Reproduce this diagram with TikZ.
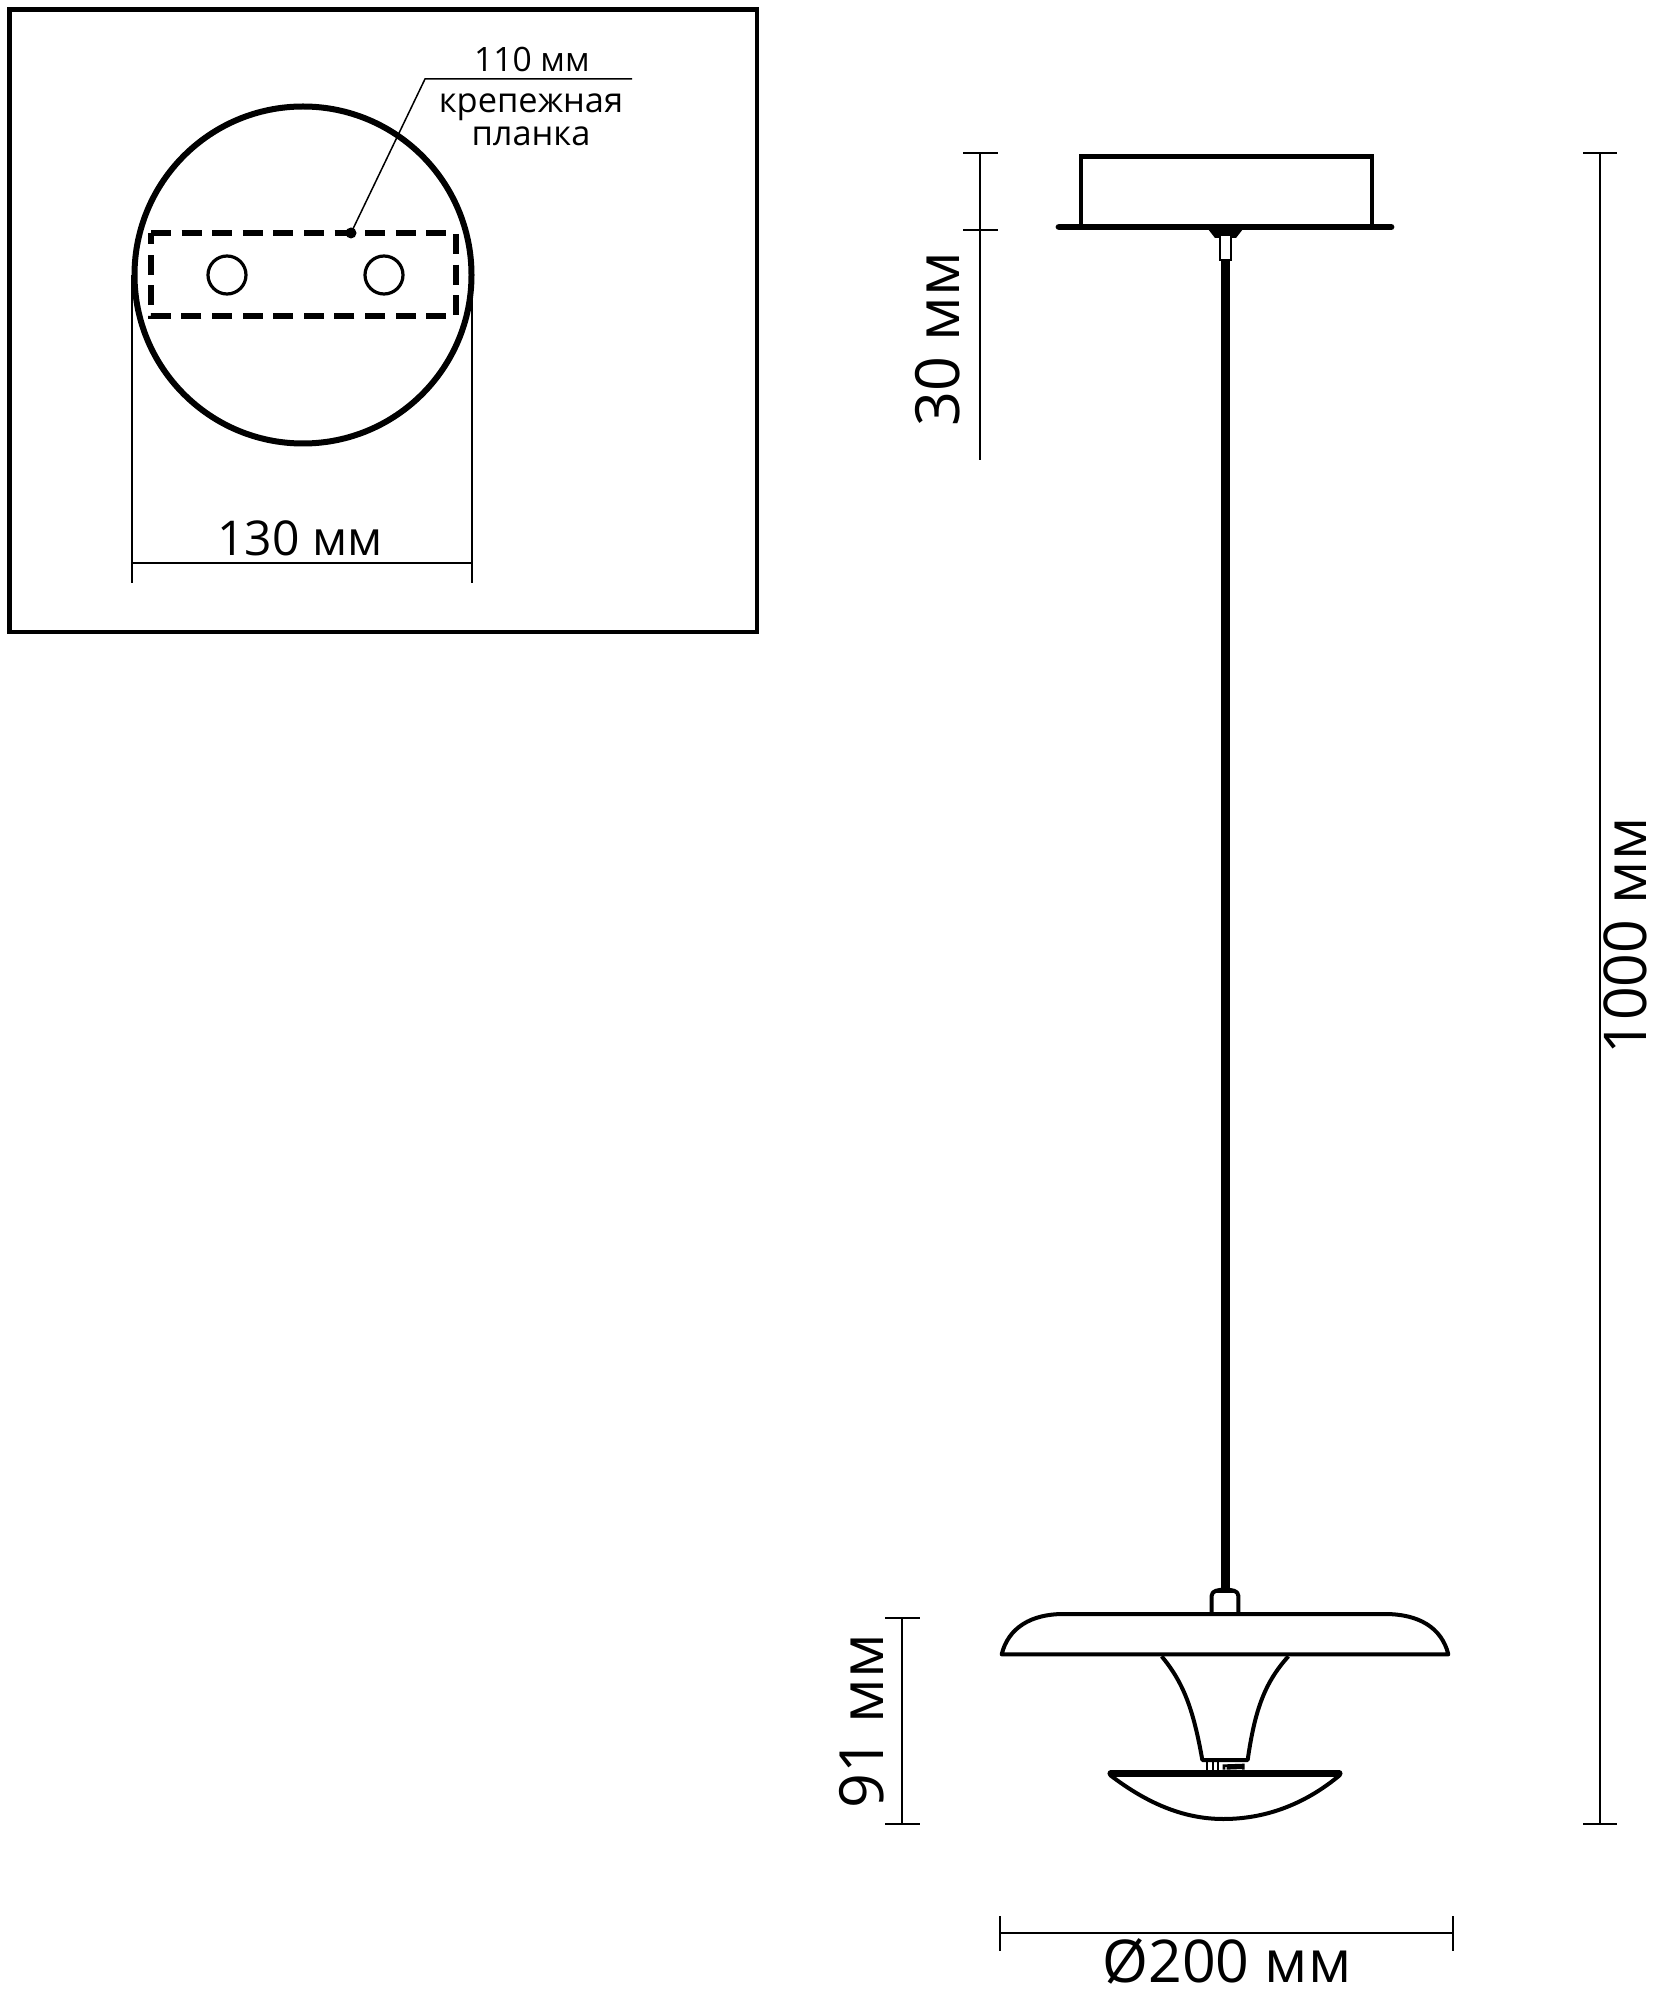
\documentclass[tikz,border=0pt]{standalone}
\usepackage{fontspec}
\setmainfont{Open Sans}
\begin{document}
\begin{tikzpicture}[x=0.5pt,y=-0.5pt,
  thin line/.style={line width=0.75pt,black},
  heavy/.style={line width=3pt,black},
  lampline/.style={line width=2pt,black,line join=round},
  dim/.style={inner sep=0pt,font=\fontsize{30.5}{30.5}\selectfont},
  dimtall/.style={inner sep=0pt,font=\fontsize{29.5}{29.5}\selectfont},
  dimmid/.style={inner sep=0pt,font=\fontsize{24}{24}\selectfont},
  dimsmall/.style={inner sep=0pt,font=\fontsize{16.8}{16.8}\selectfont},
  lab/.style={inner sep=0pt,font=\fontsize{17.2}{17.2}\selectfont}]
\useasboundingbox (0,0) rectangle (1666,2000);
% inset
\draw[line width=2.2pt] (9.5,9.5) rectangle (757,632);
\draw[heavy] (303,275) circle[radius=168.5];
\draw[line width=3pt,dash pattern=on 10pt off 5.3pt] (151,233) -- (456,233) -- (456,316) -- (151,316) -- cycle;
\draw[line width=1.6pt] (227,275) circle[radius=19];
\draw[line width=1.6pt] (384,275) circle[radius=19];
\coordinate (dotp) at (351,233);
\coordinate (bend) at (425,79);
\coordinate (legend) at (632,79);
\fill (dotp) circle[radius=5.5];
\draw[thin line] (dotp) -- (bend) -- (legend);
\node[dimsmall] (t110) at (532,59) {110 мм};
\node[lab] (tk) at (531,107) {крепежная};
\node[lab] (tp) at (531,136) {планка};
\coordinate (a1) at (132,275); \coordinate (a2) at (132,583);
\coordinate (b1) at (472,275); \coordinate (b2) at (472,583);
\coordinate (c1) at (132,563); \coordinate (c2) at (472,563);
\draw[thin line] (a1) -- (a2) (b1) -- (b2) (c1) -- (c2);
\node[dimmid] (t130) at (300,538) {130 мм};
% ceiling box
\draw[line width=2.4pt] (1081,229) -- (1081,156.5) -- (1372,156.5) -- (1372,229);
\draw[line width=3.4pt,line cap=round] (1059,227) -- (1391,227);
\fill (1208,229) -- (1243,229) -- (1236,238) -- (1215,238) -- cycle;
\draw[line width=1.2pt,fill=white] (1220,236) -- (1220,260) -- (1231,260) -- (1231,236);
% rod
\draw[line width=4.8pt] (1225.5,260) -- (1225.5,1592);
% dims, right
\coordinate (d1) at (980,153); \coordinate (d2) at (980,460);
\draw[thin line] (d1) -- (d2) (963,153) -- (998,153) (963,230) -- (998,230);
\node[dim,rotate=90] (t30) at (938,339) {30 мм};
\coordinate (e1) at (1600,153); \coordinate (e2) at (1600,1824);
\draw[thin line] (e1) -- (e2) (1583,153) -- (1617,153) (1583,1824) -- (1617,1824);
\node[dimtall,rotate=90] (t1000) at (1625,936) {1000 мм};
\coordinate (f1) at (902,1618); \coordinate (f2) at (902,1824);
\draw[thin line] (f1) -- (f2) (885,1618) -- (920,1618) (885,1824) -- (920,1824);
\node[dim,rotate=90] (t91) at (862,1721) {91 мм};
\coordinate (g1) at (1000,1933); \coordinate (g2) at (1453,1933);
\draw[thin line] (g1) -- (g2) (1000,1916) -- (1000,1951) (1453,1916) -- (1453,1951);
\node[dimtall] (t200) at (1227,1961) {Ø200 мм};
% lamp, in crop units
\begin{scope}[shift={(960,1559)},x=0.5pt/3,y=-0.5pt/3]
\draw[lampline] (125,286) .. controls (145,205) and (215,165) .. (310,165) -- (1275,165) .. controls (1375,165) and (1445,205) .. (1465,286) -- cycle;
\draw[lampline] (755,165) -- (755,110) .. controls (755,95) and (775,92) .. (795,92) .. controls (815,92) and (835,95) .. (835,110) -- (835,165);
\draw[line width=0.9pt] (760,100) -- (830,100);
\draw[lampline] (605,292) .. controls (670,370) and (700,450) .. (727,603) -- (863,603) .. controls (885,450) and (915,370) .. (985,292);
\draw[line width=0.9pt] (740,610) -- (740,635) (760,610) -- (760,635) (775,610) -- (775,635);
\draw[line width=1.3pt] (792,632) -- (792,620) -- (850,618) -- (850,632) (800,628) -- (850,626);
\draw[line width=2pt,line join=round] (450,648) .. controls (570,740) and (680,780) .. (790,780) .. controls (910,780) and (1030,740) .. (1140,648);
\draw[line width=3.2pt,line cap=round] (452,643) -- (1138,643);
\end{scope}
\end{tikzpicture}
\end{document}
